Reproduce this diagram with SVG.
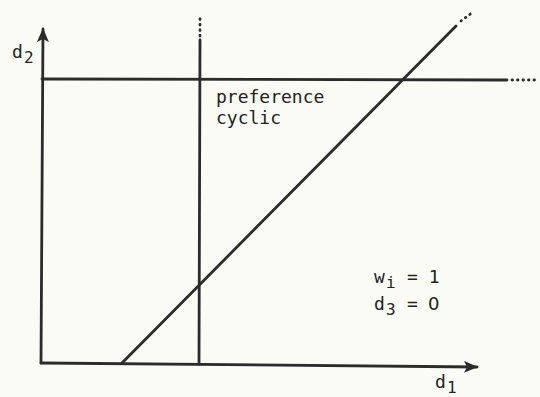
<svg xmlns="http://www.w3.org/2000/svg" width="540" height="397" viewBox="0 0 540 397">
<style>
.ln{stroke:#2b2b2b;stroke-width:2.8;fill:none;stroke-linecap:round}
.dot{stroke:#2b2b2b;stroke-width:2.8;fill:none;stroke-linecap:round;stroke-dasharray:0.5 5}
.t{font-family:"DejaVu Sans Mono",monospace;font-size:18px;fill:#222}
.s{font-family:"DejaVu Sans Mono",monospace;font-size:16px;fill:#222}
.z{font-family:"DejaVu Sans",sans-serif;font-size:18px;fill:#222}
</style>
<defs>
<marker id="ah" viewBox="0 0 14 12" refX="13" refY="6" markerWidth="14" markerHeight="12" markerUnits="userSpaceOnUse" orient="auto">
<path d="M0,0 L14,6 L0,12 L3,6 Z" fill="#2b2b2b"/>
</marker>
</defs>
<rect width="540" height="397" fill="#fbfbf6"/>
<g id="connectors">
<line id="y-axis" class="ln" x1="41" y1="363" x2="43" y2="29" marker-end="url(#ah)"/>
<line id="x-axis" class="ln" x1="41" y1="363" x2="477" y2="367" marker-end="url(#ah)"/>
<line id="hline" class="ln" x1="42" y1="79" x2="507" y2="80"/>
<line class="dot" x1="512" y1="80" x2="535" y2="80"/>
<line id="vline" class="ln" x1="199" y1="364" x2="200" y2="40"/>
<line class="dot" x1="200" y1="36" x2="200" y2="16"/>
<line id="diag" class="ln" x1="122" y1="363" x2="456" y2="26"/>
<line class="dot" x1="461" y1="21" x2="473" y2="12"/>
</g>
<g id="label-d2"><text class="t" x="12" y="58">d</text><text class="s" x="24" y="63">2</text></g>
<g id="label-d1"><text class="t" x="435" y="388">d</text><text class="s" x="447" y="393">1</text></g>
<g id="label-region"><text class="t" x="216" y="103">preference</text><text class="t" x="216" y="124">cyclic</text></g>
<g id="label-params">
<text class="t" x="374" y="283">w</text><text class="s" x="386" y="288">i</text><text class="t" x="407" y="283">= 1</text>
<text class="t" x="374" y="310">d</text><text class="s" x="386" y="315">3</text><text class="t" x="407" y="310">=</text><text class="z" x="428" y="310">0</text>
</g>
</svg>
